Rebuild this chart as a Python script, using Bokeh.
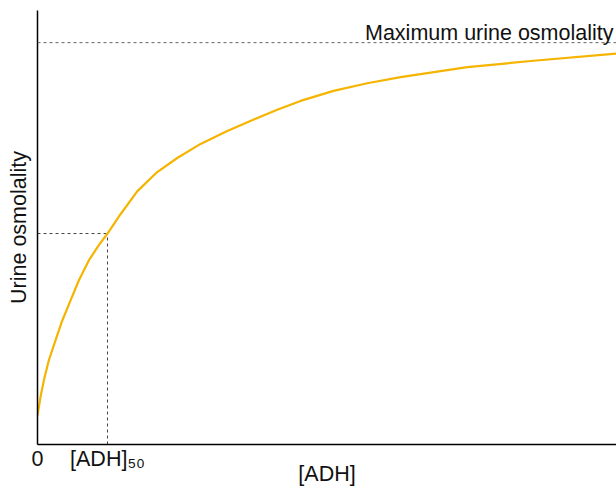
from bokeh.plotting import figure
from bokeh.models import Range1d, Label, Span, FixedTicker
from bokeh.embed import file_html
from bokeh.resources import INLINE

# Data (ADH in units of [ADH]50, osmolality in % of maximum)
adh = [0, 0.043, 0.09, 0.161, 0.257, 0.353, 0.471, 0.59, 0.733, 0.876, 1.0,
       1.186, 1.424, 1.71, 1.996, 2.329, 2.71, 3.09, 3.424, 3.757, 4.229,
       4.71, 5.186, 6.139, 7.086, 8.27]
osm = [7.2, 11.8, 15.9, 20.9, 25.9, 30.8, 35.8, 40.8, 45.8, 49.6, 52.5,
       57.3, 63.0, 67.8, 71.3, 74.8, 78.0, 80.9, 83.3, 85.5, 88.0,
       89.9, 91.4, 93.9, 95.5, 97.3]
adh50 = 1.0
osm50 = 52.5
osm_max = 100.0
tick_pos = [0, 1]
tick_labels = {0: "0", 1: "[ADH]\u2085\u2080"}

FONT = "Liberation Sans"
FS = "21.5px"
TXT = "#111111"

p = figure(width=616, height=488, output_backend="svg", toolbar_location=None,
           x_range=Range1d(0, 8.27), y_range=Range1d(0, 108),
           min_border_left=37, min_border_right=0, min_border_top=10,
           min_border_bottom=44)
p.outline_line_color = None
p.grid.visible = False
p.background_fill_color = "white"

for ax in (p.xaxis[0], p.yaxis[0]):
    ax.axis_line_color = "black"
    ax.axis_line_width = 1.5
    ax.major_tick_out = 0
    ax.major_tick_in = 0
    ax.minor_tick_out = 0
    ax.minor_tick_in = 0
    ax.axis_label_text_font = FONT
    ax.axis_label_text_font_size = FS
    ax.axis_label_text_font_style = "normal"
    ax.axis_label_text_color = TXT
    ax.major_label_text_font = FONT
    ax.major_label_text_font_size = FS
    ax.major_label_text_color = TXT

p.xaxis.ticker = FixedTicker(ticks=tick_pos)
p.xaxis.major_label_overrides = tick_labels
p.xaxis.major_label_standoff = 2
p.xaxis.axis_label = "[ADH]"
p.xaxis.axis_label_standoff = -12

p.yaxis.ticker = []
p.yaxis.axis_label = "Urine osmolality"
p.yaxis.axis_label_standoff = 7

# reference lines
p.add_layout(Span(location=osm_max, dimension="width", line_color="#666666",
                  line_width=1, line_dash="3 3"))
p.line([0, adh50], [osm50, osm50], line_color="#444444", line_width=1, line_dash="3 3")
p.line([adh50, adh50], [0, osm50], line_color="#444444", line_width=1, line_dash="3 3")

# curve
p.line(adh, osm, line_color="#F5B400", line_width=2.2, line_join="round")

# max label
p.add_layout(Label(x=8.27, y=osm_max + 2.3, text="Maximum urine osmolality",
                   text_align="right", x_offset=-3, text_baseline="alphabetic",
                   text_font=FONT, text_font_size=FS, text_color=TXT))

open("out.html", "w").write(file_html(p, INLINE))
